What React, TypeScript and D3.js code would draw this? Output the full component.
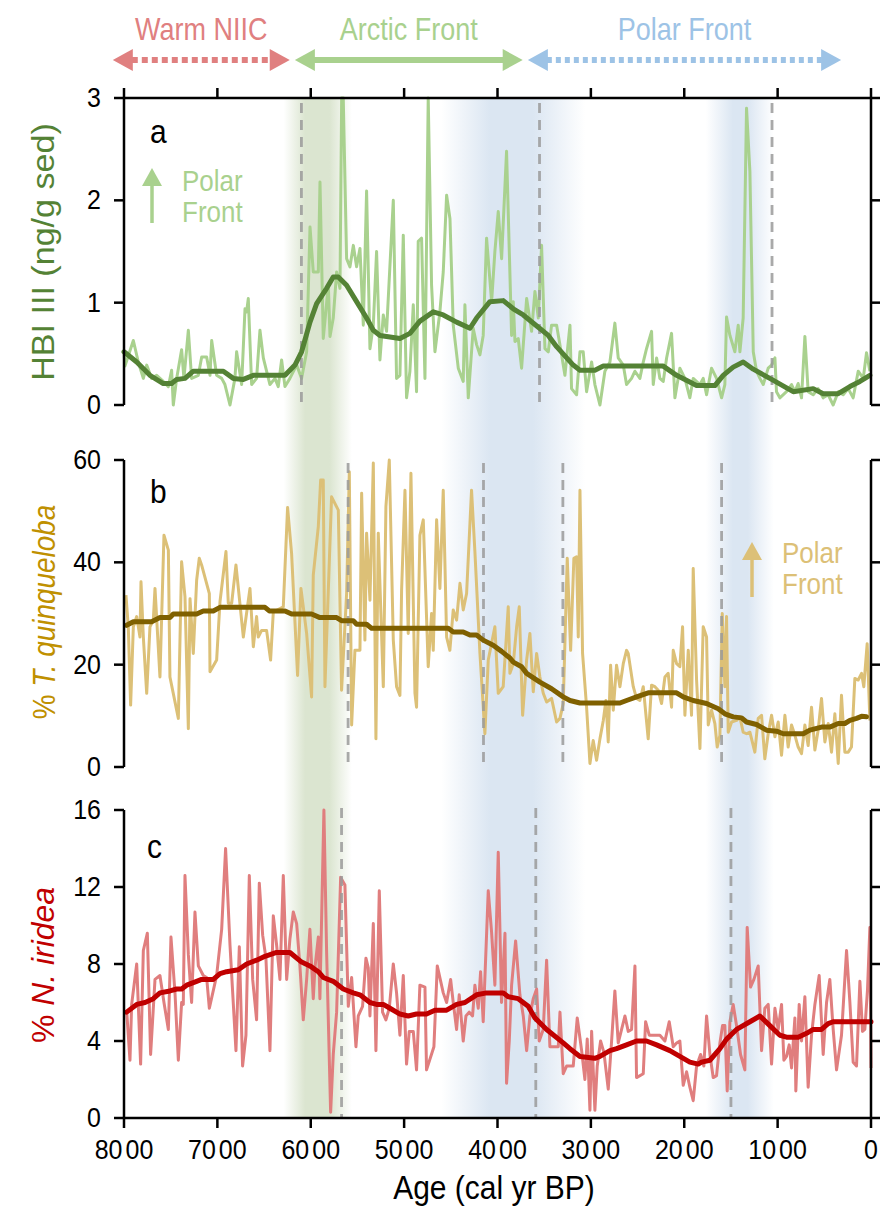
import React from 'react';
import * as d3 from 'd3';

// ---------- DATA ----------
const ageTicks = [8000, 7000, 6000, 5000, 4000, 3000, 2000, 1000, 0];

// Panel a: HBI III (ng/g sed)  [age, value]
const hbiRaw: [number, number][] = [
  [8000,0.52],[7990,0.38],[7900,0.63],[7847,0.42],[7793,0.26],[7757,0.39],[7704,0.26],[7650,0.29],[7579,0.23],[7525,0.18],
  [7490,0.34],[7472,0.0],[7436,0.26],[7383,0.54],[7358,0.26],[7311,0.73],[7276,0.26],[7204,0.29],[7168,0.47],[7115,0.47],
  [7079,0.29],[7061,0.63],[7008,0.29],[6954,0.26],[6919,0.2],[6865,0.0],[6812,0.26],[6794,0.52],[6740,0.2],[6704,0.94],
  [6687,0.91],[6669,1.04],[6633,0.2],[6580,0.26],[6544,0.73],[6508,0.46],[6473,0.33],[6437,0.2],[6383,0.26],[6348,0.18],
  [6312,0.44],[6276,0.18],[6223,0.26],[6151,0.39],[6098,0.26],[6044,0.52],[6008,1.74],[5973,1.3],[5919,1.3],[5901,2.18],
  [5866,0.65],[5812,1.17],[5794,0.67],[5759,0.85],[5723,1.3],[5687,1.14],[5669,3.0],[5652,3.0],[5616,1.43],[5580,1.35],
  [5544,1.56],[5509,1.35],[5473,1.53],[5437,0.78],[5402,2.09],[5366,0.55],[5330,0.78],[5295,1.5],[5259,0.44],[5223,0.88],
  [5188,0.72],[5116,2.0],[5081,0.26],[5045,0.29],[5009,1.66],[4974,0.07],[4938,0.33],[4902,0.98],[4867,0.13],[4849,1.6],
  [4813,1.63],[4777,0.26],[4742,3.0],[4706,1.17],[4670,0.52],[4617,0.91],[4581,1.3],[4545,2.05],[4509,1.82],[4474,0.78],
  [4420,0.36],[4367,0.23],[4349,0.98],[4313,0.07],[4260,0.75],[4224,0.59],[4188,0.49],[4153,0.68],[4117,1.63],[4063,1.01],
  [4028,1.5],[3992,1.89],[3956,1.43],[3903,2.48],[3849,0.68],[3831,1.01],[3813,0.62],[3778,0.65],[3742,0.36],[3688,1.04],
  [3635,0.72],[3599,1.11],[3563,0.85],[3528,1.56],[3492,0.55],[3456,0.52],[3421,0.78],[3367,0.78],[3332,0.59],[3278,0.29],
  [3224,0.78],[3207,0.16],[3153,0.1],[3117,0.52],[3082,0.52],[3046,0.13],[2992,0.42],[2957,0.2],[2903,0.0],[2850,0.33],
  [2796,0.42],[2743,0.8],[2707,0.46],[2653,0.39],[2618,0.2],[2564,0.26],[2528,0.33],[2475,0.26],[2439,0.42],[2404,0.55],
  [2350,0.72],[2332,0.2],[2296,0.46],[2261,0.26],[2225,0.23],[2189,0.46],[2136,0.7],[2100,0.07],[2047,0.36],[1993,0.26],
  [1940,0.07],[1904,0.26],[1832,0.2],[1797,0.26],[1761,0.1],[1708,0.36],[1654,0.26],[1600,0.07],[1565,0.2],[1547,0.86],
  [1511,0.68],[1458,0.52],[1422,0.78],[1404,0.52],[1369,0.85],[1333,2.9],[1297,2.28],[1261,0.52],[1226,0.33],[1190,0.26],
  [1154,0.2],[1101,0.36],[1065,0.39],[1029,0.46],[1012,0.13],[976,0.07],[905,0.13],[851,0.2],[815,0.13],[780,0.21],
  [744,0.07],[708,0.67],[673,0.13],[619,0.1],[566,0.16],[512,0.07],[459,0.1],[405,0.0],[351,0.13],[298,0.1],
  [244,0.16],[191,0.07],[137,0.33],[83,0.26],[48,0.51],[12,0.33],
];
const hbiSmooth: [number, number][] = [
  [8000,0.52],[7864,0.42],[7722,0.29],[7579,0.21],[7490,0.21],[7436,0.25],[7347,0.26],[7258,0.33],[6936,0.33],[6829,0.26],
  [6722,0.25],[6615,0.29],[6276,0.29],[6169,0.39],[6098,0.52],[6008,0.81],[5937,0.99],[5830,1.14],[5759,1.25],[5705,1.25],
  [5616,1.17],[5509,1.01],[5402,0.85],[5330,0.73],[5259,0.68],[5188,0.67],[5045,0.65],[4938,0.7],[4831,0.82],[4688,0.91],
  [4581,0.88],[4438,0.81],[4295,0.75],[4224,0.85],[4081,1.01],[3938,1.02],[3831,0.94],[3724,0.88],[3563,0.76],[3456,0.68],
  [3367,0.57],[3189,0.39],[3117,0.34],[2957,0.34],[2867,0.38],[2225,0.38],[2082,0.29],[1868,0.19],[1672,0.19],[1583,0.29],
  [1476,0.37],[1369,0.42],[1261,0.35],[1083,0.26],[833,0.13],[619,0.16],[512,0.11],[351,0.11],[226,0.18],[119,0.23],[12,0.29],
];

// Panel b: % T. quinqueloba
const tqRaw: [number, number][] = [
  [7979,33.6],[7954,27.4],[7929,12.1],[7900,27.4],[7864,29.4],[7829,25.4],[7818,36.2],[7793,25.4],[7757,14.4],[7722,27.4],
  [7686,28.7],[7668,34.9],[7615,17.6],[7572,45.3],[7525,42.4],[7508,17.6],[7418,9.5],[7383,40.1],[7347,33.3],[7311,7.5],
  [7293,32.9],[7258,22.2],[7222,36.5],[7194,40.8],[7169,39.5],[7086,33.9],[7079,18.6],[7008,20.9],[6972,32.3],[6908,42.1],
  [6883,32],[6847,32],[6801,39.5],[6722,25.4],[6651,34.9],[6615,23.5],[6580,29.4],[6562,25.4],[6526,26.7],[6473,26.7],
  [6430,20.9],[6401,30.3],[6294,31.3],[6248,50.7],[6205,41.7],[6141,17.9],[6105,34.9],[6044,26.1],[5991,13.7],[5973,37.5],
  [5919,47],[5894,56.1],[5866,56.1],[5848,15.7],[5777,52.8],[5705,50.2],[5670,15],[5616,33.9],[5587,57.7],[5562,8.2],
  [5527,22.8],[5473,22.8],[5455,53.5],[5420,24.8],[5402,45.7],[5366,32.6],[5330,59.4],[5302,5.5],[5277,45.7],[5223,15.7],
  [5195,50.9],[5159,60],[5116,24.8],[5081,15.7],[5045,14],[5027,34.6],[4991,54.1],[4956,26.1],[4927,57.4],[4884,14.4],
  [4867,11.7],[4831,45.3],[4795,48.3],[4742,19.6],[4706,30],[4688,22.8],[4652,48.3],[4617,34.9],[4581,54.1],[4545,25.4],
  [4510,22.8],[4474,30.7],[4438,28.7],[4402,35.9],[4367,30.7],[4331,33.9],[4278,54.1],[4242,42.1],[4188,22.2],[4135,6.5],
  [4099,20.9],[4028,27.4],[3992,14.4],[3939,15.7],[3885,31.3],[3867,18.3],[3831,20.2],[3795,27.4],[3767,31.3],[3731,10.1],
  [3688,20.9],[3653,26.1],[3617,14.7],[3581,22.2],[3546,17.6],[3510,14.4],[3474,12.7],[3421,13.4],[3367,8.8],[3331,9.5],
  [3296,12.4],[3253,40.8],[3217,22.8],[3182,40.8],[3153,41.1],[3135,25.4],[3117,54.1],[3089,22.2],[3046,11.7],[3010,0.7],
  [2975,5.2],[2939,1.3],[2903,5.5],[2867,9.1],[2839,13],[2814,4.9],[2789,19.9],[2760,11.1],[2725,19.9],[2689,15.7],
  [2653,20.2],[2618,22.8],[2600,22.2],[2546,15.7],[2511,13.4],[2475,13],[2439,15.7],[2386,5.5],[2350,16],[2314,15.7],
  [2279,15],[2243,12.4],[2207,17.6],[2172,18.3],[2136,11.7],[2118,22.8],[2082,20.2],[2047,19.6],[2018,27.4],[1993,10.1],
  [1957,22.8],[1922,10.1],[1904,38.8],[1868,17],[1832,3.6],[1797,27.4],[1761,25.4],[1743,8.2],[1708,11.1],[1672,8.5],
  [1647,3.9],[1618,6.2],[1593,30],[1565,15.7],[1547,29.4],[1529,6.8],[1493,8.8],[1440,9.1],[1404,9.8],[1369,6.8],
  [1333,6.5],[1297,6.8],[1244,2.9],[1208,9.5],[1172,10.1],[1137,1.6],[1101,6.5],[1065,10.1],[1029,5.9],[994,8.8],
  [958,2.3],[922,10.1],[887,3.9],[851,8.2],[815,6.2],[780,3.9],[744,2.6],[708,8.2],[673,4.2],[637,11.7],
  [601,3.3],[566,7.2],[530,13.4],[494,4.9],[458,8.5],[423,2.9],[387,10.4],[351,0.7],[316,14],[280,2.9],
  [244,2.9],[209,3.9],[173,17.3],[137,17],[101,18.3],[77,15.7],[41,24.1],[12,9.1],
];
const tqSmooth: [number, number][] = [
  [7972,27.7],[7900,28.4],[7704,28.4],[7615,29.2],[7508,29.2],[7472,29.9],[7222,29.9],[7151,30.5],[7044,30.5],[6972,31.2],
  [6490,31.2],[6444,30.5],[6276,30.5],[6205,29.9],[5991,29.9],[5902,29.2],[5723,29.2],[5670,28.6],[5545,28.6],[5509,27.9],
  [5402,27.9],[5348,27.1],[4527,27.1],[4474,26.4],[4367,26.4],[4295,25.8],[4224,25.8],[4153,24.8],[4046,23.8],[3956,22.6],
  [3867,21.3],[3831,20.5],[3742,19.6],[3688,18.3],[3546,16.6],[3421,15.3],[3296,13.7],[3224,13],[3117,12.5],[2689,12.5],
  [2618,13],[2511,13.7],[2386,14.5],[2082,14.5],[2011,13.7],[1904,13],[1761,12.4],[1636,11.4],[1565,10.4],[1476,9.8],
  [1386,9.6],[1333,8.8],[1226,8.3],[1119,7.2],[1012,7.0],[940,6.5],[726,6.5],[655,7.2],[530,7.8],[441,7.8],
  [351,8.5],[280,8.5],[226,9.1],[155,9.5],[101,9.9],[48,9.8],
];

// Panel c: % N. iridea
const niRaw: [number, number][] = [
  [7972,5.6],[7936,3.0],[7918,5.9],[7864,8.0],[7822,2.8],[7793,8.7],[7750,9.6],[7715,3.3],[7668,7.2],[7615,7.4],
  [7572,6.0],[7525,4.6],[7497,9.4],[7454,6.5],[7418,3.0],[7383,6.0],[7365,5.9],[7347,12.6],[7311,8.5],[7276,6.0],
  [7240,10.7],[7204,7.9],[7151,7.4],[7115,7.3],[7086,5.7],[7008,7.4],[6954,9.8],[6912,14.0],[6865,9.0],[6801,3.5],
  [6765,8.9],[6730,2.7],[6694,4.3],[6658,12.6],[6622,7.2],[6580,5.1],[6551,12.2],[6515,9.5],[6480,8.3],[6437,3.5],
  [6401,10.5],[6366,9.0],[6330,7.2],[6294,12.6],[6258,7.2],[6223,9.3],[6187,10.7],[6151,10.1],[6116,7.9],[6080,5.1],
  [6044,7.2],[6009,9.8],[5973,6.2],[5955,7.8],[5919,9.4],[5902,6.2],[5859,16.0],[5830,8.6],[5787,0.3],[5759,3.3],
  [5723,5.5],[5680,12.5],[5634,12.1],[5598,5.8],[5562,7.3],[5516,3.7],[5491,5.3],[5445,5.8],[5409,8.3],[5384,7.8],
  [5366,5.3],[5330,10.1],[5302,3.5],[5266,11.8],[5231,5.5],[5195,5.1],[5159,5.7],[5116,8.0],[5081,6.5],[5045,4.3],
  [5009,7.4],[4974,2.8],[4945,4.5],[4902,4.5],[4867,2.5],[4831,6.9],[4777,6.8],[4760,2.5],[4681,3.7],[4645,7.9],
  [4581,6.5],[4545,6.0],[4502,7.2],[4474,6.0],[4438,4.6],[4410,6.4],[4367,4.0],[4338,5.3],[4303,5.5],[4267,5.3],
  [4242,6.9],[4206,5.7],[4181,7.6],[4153,5.0],[4099,11.8],[4064,9.7],[4028,6.9],[3992,13.8],[3957,6.0],[3920,9.6],
  [3903,1.8],[3874,4.0],[3849,6.9],[3806,9.2],[3760,6.4],[3724,5.3],[3688,3.5],[3653,5.3],[3617,6.2],[3581,6.7],
  [3553,4.0],[3510,4.6],[3474,8.2],[3439,3.7],[3385,3.7],[3349,3.7],[3331,5.5],[3296,2.3],[3260,2.7],[3189,2.7],
  [3146,5.2],[3099,3.5],[3064,2.0],[3039,4.1],[3010,0.4],[2992,4.5],[2957,0.4],[2932,2.7],[2896,4.0],[2860,3.4],
  [2814,1.5],[2778,4.0],[2743,6.6],[2707,3.9],[2671,4.6],[2635,5.3],[2600,4.5],[2564,4.6],[2528,7.9],[2511,2.1],
  [2439,2.3],[2414,5.0],[2375,4.3],[2314,4.3],[2261,4.3],[2207,4.0],[2161,5.0],[2118,3.7],[2082,3.9],[2047,4.0],
  [2011,1.7],[1975,2.4],[1940,1.6],[1904,0.9],[1868,2.7],[1825,3.3],[1790,2.7],[1761,5.3],[1725,3.3],[1690,2.1],
  [1654,2.2],[1618,3.9],[1590,4.8],[1565,4.8],[1540,1.4],[1511,5.0],[1476,5.9],[1440,4.8],[1397,3.3],[1351,2.5],
  [1326,9.9],[1290,6.8],[1254,7.2],[1208,7.9],[1172,3.5],[1137,5.7],[1101,5.9],[1065,2.8],[1029,5.7],[994,4.6],
  [958,5.9],[933,3.0],[905,3.2],[876,3.8],[851,2.6],[815,5.2],[805,1.4],[769,5.9],[744,4.0],[708,6.3],
  [673,1.6],[637,4.3],[601,5.9],[555,7.4],[512,3.3],[476,6.0],[441,7.2],[405,4.6],[369,2.5],[316,4.3],
  [262,8.7],[226,6.0],[191,2.9],[155,2.7],[119,7.1],[91,4.5],[66,4.6],[37,6.7],[12,9.9],[0,2.6],
];
const niSmooth: [number, number][] = [
  [7972,5.5],[7864,5.9],[7775,6.0],[7686,6.2],[7615,6.5],[7508,6.6],[7436,6.7],[7383,6.7],[7329,6.9],[7222,7.1],
  [7169,7.2],[7044,7.2],[6972,7.5],[6901,7.6],[6776,7.7],[6687,8.0],[6580,8.2],[6490,8.4],[6366,8.6],[6223,8.6],
  [6098,8.1],[6009,7.9],[5919,7.6],[5866,7.3],[5759,7.1],[5652,6.7],[5545,6.5],[5473,6.4],[5366,6.0],[5295,5.9],
  [5223,5.9],[5152,5.7],[5045,5.4],[4956,5.3],[4867,5.4],[4760,5.4],[4670,5.6],[4545,5.6],[4438,5.9],[4349,6.0],
  [4224,6.4],[4117,6.5],[3938,6.5],[3885,6.3],[3778,6.2],[3671,5.8],[3599,5.2],[3474,4.6],[3296,3.9],[3224,3.6],
  [3117,3.2],[2957,3.1],[2903,3.2],[2796,3.5],[2725,3.6],[2618,3.8],[2511,4.0],[2404,4.0],[2296,3.8],[2154,3.5],
  [2047,3.2],[1940,2.9],[1850,2.8],[1815,2.9],[1725,3.0],[1618,3.6],[1547,4.1],[1440,4.6],[1297,5.0],[1190,5.3],
  [1083,4.8],[976,4.3],[905,4.2],[780,4.2],[690,4.4],[619,4.6],[530,4.6],[459,4.9],[405,5.0],[0,5.0],
];

// Shaded intervals: [fadeStart, fullStart, fullEnd, fadeEnd] in cal yr BP
const greenBand = [6290, 6060, 5800, 5560];
const blueBands = [
  [4600, 4080, 3620, 3060],
  [1770, 1480, 1320, 1040],
];

// Dashed transition lines per panel (cal yr BP)
const hbiDashes = [6100, 3550, 1060];
const tqDashes = [5600, 4150, 3300, 1600];
const niDashes = [5670, 3590, 1500];

// Top regime arrows: label, start age, end age
const regimes: { label: string; from: number; to: number; color: string; dash: string | null }[] = [
  { label: 'Warm NIIC', from: 8120, to: 6225, color: '#e08080', dash: '6 4' },
  { label: 'Arctic Front', from: 6170, to: 3730, color: '#a9d18e', dash: null },
  { label: 'Polar Front', from: 3675, to: 320, color: '#9dc3e6', dash: '5 4' },
];

const hbiTicks = [0, 1, 2, 3];
const tqTicks = [0, 20, 40, 60];
const niTicks = [0, 4, 8, 12, 16];

// ---------- LAYOUT ----------
const FONT = "'Liberation Sans', Arial, Helvetica, sans-serif";
const xScale = d3.scaleLinear().domain([8000, 0]).range([124, 871]);
const VS = 1.12; // vertical glyph stretch seen in the figure

type Panel = {
  letter: string; domain: [number, number]; top: number; bottom: number; ticks: number[];
  raw: [number, number][]; smooth: [number, number][]; rawColor: string; smoothColor: string;
  dashes: number[]; dashTop: number; dashBottom: number; letterX: number; letterY: number;
};

const panels: Panel[] = [
  { letter: 'a', domain: [0, 3], top: 98, bottom: 405, ticks: hbiTicks, raw: hbiRaw, smooth: hbiSmooth,
    rawColor: '#a9d18e', smoothColor: '#548235', dashes: hbiDashes, dashTop: 103, dashBottom: 405, letterX: 150, letterY: 143 },
  { letter: 'b', domain: [0, 60], top: 460, bottom: 767, ticks: tqTicks, raw: tqRaw, smooth: tqSmooth,
    rawColor: '#dcc077', smoothColor: '#7f6000', dashes: tqDashes, dashTop: 463, dashBottom: 765, letterX: 150, letterY: 503 },
  { letter: 'c', domain: [0, 16], top: 810, bottom: 1118, ticks: niTicks, raw: niRaw, smooth: niSmooth,
    rawColor: '#e07e7e', smoothColor: '#c00000', dashes: niDashes, dashTop: 808, dashBottom: 1118, letterX: 147, letterY: 858 },
];

function bandGradient(id: string, b: number[], color: string) {
  const x0 = xScale(b[0]), x1 = xScale(b[3]);
  const w = x1 - x0;
  const f = (a: number) => ((xScale(a) - x0) / w) * 100 + '%';
  return (
    <linearGradient id={id} x1="0" x2="1" y1="0" y2="0" key={id}>
      <stop offset="0%" stopColor={color} stopOpacity={0} />
      <stop offset={f(b[1])} stopColor={color} stopOpacity={1} />
      <stop offset={f(b[2])} stopColor={color} stopOpacity={1} />
      <stop offset="100%" stopColor={color} stopOpacity={0} />
    </linearGradient>
  );
}

function xLabel(t: number) {
  const s = String(t);
  if (s.length < 4) return <tspan>{s}</tspan>;
  return (
    <>
      <tspan>{s.slice(0, 2)}</tspan>
      <tspan dx={3}>{s.slice(2)}</tspan>
    </>
  );
}

// horizontal text with vertical stretch about its baseline
function HText(props: { x: number; y: number; size: number; fill: string; anchor?: string; children: React.ReactNode; dy?: string }) {
  return (
    <text transform={`translate(${props.x},${props.y}) scale(1,${VS})`} textAnchor={props.anchor || 'start'}
      fontSize={props.size} fill={props.fill} dy={props.dy}>{props.children}</text>
  );
}

export default function App() {
  const bandTop = 98, bandBottom = 1118;
  return (
    <svg width={880} height={1221} viewBox="0 0 880 1221" style={{ display: 'block', position: 'absolute', left: 0, top: 0 }} fontFamily={FONT}>
      <defs>
        {bandGradient('gband', greenBand, '#dbe5d0')}
        {blueBands.map((b, i) => bandGradient('bband' + i, b, '#dbe6f2'))}
      </defs>
      <rect x={0} y={0} width={880} height={1221} fill="#fff" />

      {/* shaded bands */}
      <rect x={xScale(greenBand[0])} y={bandTop} width={xScale(greenBand[3]) - xScale(greenBand[0])} height={bandBottom - bandTop} fill="url(#gband)" />
      {blueBands.map((b, i) => (
        <rect key={i} x={xScale(b[0])} y={bandTop} width={xScale(b[3]) - xScale(b[0])} height={bandBottom - bandTop} fill={`url(#bband${i})`} />
      ))}

      {panels.map((p) => {
        const y = d3.scaleLinear().domain(p.domain).range([p.bottom, p.top]);
        const line = d3.line<[number, number]>().x((d) => xScale(d[0])).y((d) => y(d[1]));
        return (
          <g key={p.letter}>
            <path d={line(p.raw) || ''} fill="none" stroke={p.rawColor} strokeWidth={3} strokeLinejoin="round" />
            {p.dashes.map((a) => (
              <line key={a} x1={xScale(a)} x2={xScale(a)} y1={p.dashTop} y2={p.dashBottom} stroke="#9a9a9a" strokeOpacity={0.85} strokeWidth={2.8} strokeDasharray="10 7" />
            ))}
            <path d={line(p.smooth) || ''} fill="none" stroke={p.smoothColor} strokeWidth={5} strokeLinejoin="round" strokeLinecap="round" />
            {/* left axis */}
            <line x1={124} x2={124} y1={p.top} y2={p.bottom} stroke="#000" strokeWidth={2.5} />
            {p.ticks.map((t) => (
              <g key={t}>
                <line x1={114} x2={124} y1={y(t)} y2={y(t)} stroke="#000" strokeWidth={2.5} />
                <HText x={101} y={y(t) + 9} size={25} fill="#000" anchor="end">{t}</HText>
                <line x1={871} x2={880} y1={y(t)} y2={y(t)} stroke="#000" strokeWidth={2.5} />
              </g>
            ))}
            {/* right axis */}
            <line x1={871} x2={871} y1={p.top} y2={p.bottom} stroke="#000" strokeWidth={2.5} />
            <HText x={p.letterX} y={p.letterY} size={30} fill="#000">{p.letter}</HText>
          </g>
        );
      })}

      {/* top axis of panel a */}
      <line x1={124} x2={871} y1={98} y2={98} stroke="#000" strokeWidth={2.5} />
      {ageTicks.map((t) => (
        <line key={'tt' + t} x1={xScale(t)} x2={xScale(t)} y1={88} y2={98} stroke="#000" strokeWidth={2.5} />
      ))}

      {/* bottom axis of panel c */}
      <line x1={124} x2={871} y1={1118} y2={1118} stroke="#000" strokeWidth={2.5} />
      {ageTicks.map((t) => (
        <g key={'bt' + t}>
          <line x1={xScale(t)} x2={xScale(t)} y1={1118} y2={1128} stroke="#000" strokeWidth={2.5} />
          <HText x={xScale(t)} y={1159} size={25} fill="#000" anchor="middle">{xLabel(t)}</HText>
        </g>
      ))}
      <HText x={494} y={1199} size={30} fill="#000" anchor="middle">Age (cal yr BP)</HText>

      {/* y titles */}
      <text transform={`translate(54,252) rotate(-90) scale(1.1,1)`} textAnchor="middle" fontSize={31} fill="#548235">HBI III (ng/g sed)</text>
      <text transform={`translate(55,612) rotate(-90) scale(0.9,1)`} textAnchor="middle" fontSize={31} fill="#bf9000">
        <tspan>% </tspan><tspan fontStyle="italic">T. quinqueloba</tspan>
      </text>
      <text transform={`translate(54,965) rotate(-90) scale(1.03,1)`} textAnchor="middle" fontSize={31} fill="#c00000">
        <tspan>% </tspan><tspan fontStyle="italic">N. iridea</tspan>
      </text>

      {/* Polar Front annotations */}
      {[
        { x: 152, y0: 223, y1: 168, color: '#a9d18e', ty: 191 },
        { x: 752, y0: 597, y1: 542, color: '#dcc077', ty: 563 },
      ].map((a, i) => (
        <g key={'pf' + i}>
          <line x1={a.x} x2={a.x} y1={a.y0} y2={a.y1 + 16} stroke={a.color} strokeWidth={3.5} />
          <path d={`M${a.x - 10},${a.y1 + 18} L${a.x},${a.y1} L${a.x + 10},${a.y1 + 18} Z`} fill={a.color} />
          <HText x={a.x + 30} y={a.ty} size={26} fill={a.color}>Polar</HText>
          <HText x={a.x + 30} y={a.ty + 31} size={26} fill={a.color}>Front</HText>
        </g>
      ))}

      {/* regime arrows */}
      {regimes.map((r) => {
        const xa = xScale(r.from), xb = xScale(r.to);
        const yA = 60, head = 20, half = 11;
        return (
          <g key={r.label}>
            <line x1={xa + head - 1} x2={xb - head + 1} y1={yA} y2={yA} stroke={r.color} strokeWidth={6} strokeDasharray={r.dash || undefined} />
            <path d={`M${xa},${yA} L${xa + head},${yA - half} L${xa + head},${yA + half} Z`} fill={r.color} />
            <path d={`M${xb},${yA} L${xb - head},${yA - half} L${xb - head},${yA + half} Z`} fill={r.color} />
            <text transform={`translate(${(xa + xb) / 2},40) scale(1,1.18)`} textAnchor="middle" fontSize={27} fill={r.color}>{r.label}</text>
          </g>
        );
      })}
    </svg>
  );
}
